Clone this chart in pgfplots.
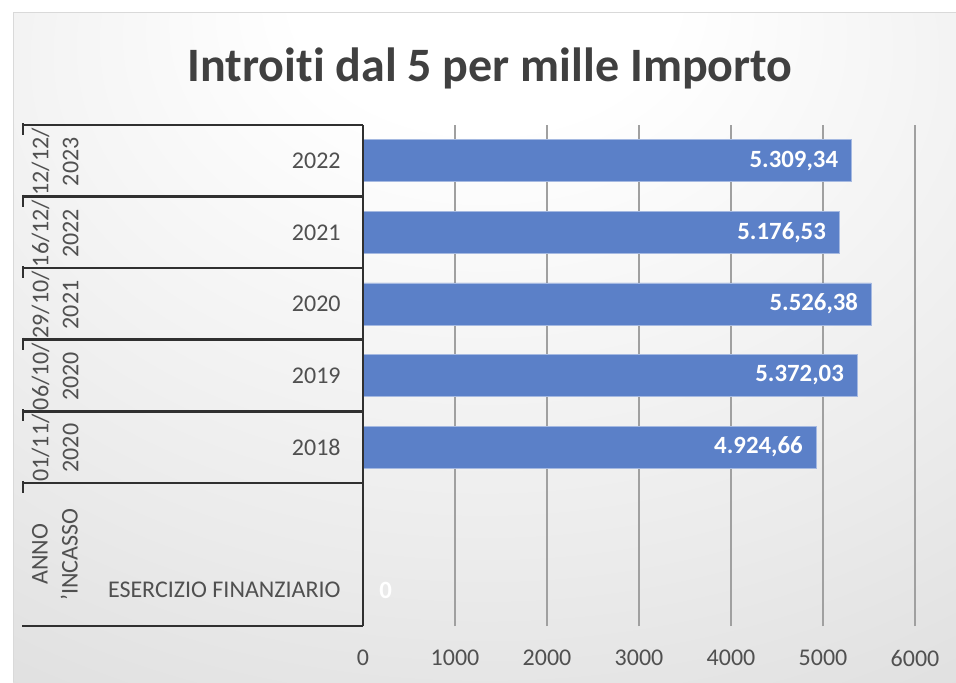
\documentclass[border=0pt]{standalone}
\usepackage{pgfplots}
\pgfplotsset{compat=1.18}
\usepackage{pgfplotstable}
\usepackage{fontspec}
\setmainfont{Carlito}[Ligatures={NoCommon}]
\definecolor{barblue}{HTML}{5B80C8}
\definecolor{txtgray}{HTML}{505050}
\definecolor{titlegray}{HTML}{404040}
\definecolor{linedark}{HTML}{303030}
\definecolor{gridgray}{HTML}{A0A0A0}
\pgfdeclareradialshading{panelshade}{\pgfpoint{0bp}{30bp}}{%
  color(0bp)=(white);
  color(10bp)=(white);
  color(35bp)=(black!8);
  color(60bp)=(black!17);
  color(85bp)=(black!24)}
\pgfplotstableread{
k v lab
6 5309.34 5.309,34
5 5176.53 5.176,53
4 5526.38 5.526,38
3 5372.03 5.372,03
2 4924.66 4.924,66
}\datatab
\begin{document}
\begin{tikzpicture}[x=0.5pt,y=0.5pt]
\useasboundingbox (0,0) rectangle (956,682);
\shade[shading=panelshade] (13,0) rectangle (956,669);
\draw[black!15, line width=0.5pt] (13,0) -- (13,669) -- (956,669);
\node[anchor=base, font=\fontsize{24}{28}\selectfont\bfseries, text=titlegray] at (490,601) {Introiti dal 5 per mille Importo};
\begin{axis}[
  at={(181.5pt,28pt)}, anchor=south west,
  scale only axis, width=276pt, height=250.5pt,
  xmin=0, xmax=6000, ymin=-0.5, ymax=6.5,
  xtick={0,1000,...,6000},
  ytick={0,2,3,4,5,6},
  yticklabels={ESERCIZIO FINANZIARIO,2018,2019,2020,2021,2022},
  scaled x ticks=false,
  /pgf/number format/.cd, 1000 sep={}, assume math mode=true, /pgfplots/.cd,
  axis line style={draw=none},
  major tick length=0pt,
  xmajorgrids,
  grid style={gridgray, line width=0.75pt},
  ticklabel style={font=\fontsize{12}{14}\selectfont, text=txtgray, inner sep=0pt},
  xticklabel style={anchor=north, yshift=-12pt},
  yticklabel style={anchor=east, xshift=-11pt},
  clip=false,
]
\addplot[xbar, bar width=21pt, fill=barblue, draw=barblue!55!white, line width=0.4pt,
  point meta=explicit symbolic, nodes near coords,
  nodes near coords style={anchor=east, xshift=-6.5pt, inner sep=0pt, text=white, font=\fontsize{12.4}{14}\selectfont\bfseries}]
  table[x=v, y=k, meta=lab] {\datatab};
\node[anchor=west, inner sep=0pt, xshift=8pt, text=white, font=\fontsize{12.4}{14}\selectfont\bfseries] at (axis cs:0,0) {0};
\end{axis}
% table lines
\foreach \yy in {557,485.4,413.9,342.3,270.7,199.1,56} {
  \draw[linedark, line width=1.25pt] (22,\yy) -- (363,\yy);
}
\foreach \yy in {557,485.4,413.9,342.3,270.7,199.1} {
  \draw[linedark, line width=1.1pt] (23,\yy+2) -- (23,\yy-10);
}
\draw[linedark, line width=1.25pt] (363,557) -- (363,56);
% outer labels
\foreach \yy/\a/\b in {520.2/12\slash 12\slash /2023, 448.6/16\slash 12\slash /2022, 377.1/29\slash 10\slash /2021, 305.5/06\slash 10\slash /2020, 233.9/01\slash 11\slash /2020, 127.5/ANNO/'INCASSO} {
  \node[rotate=90, align=center, inner sep=0pt, text=txtgray, font=\fontsize{12}{15}\selectfont] at (55,\yy) {\a\\\b};
}
\end{tikzpicture}
\end{document}
